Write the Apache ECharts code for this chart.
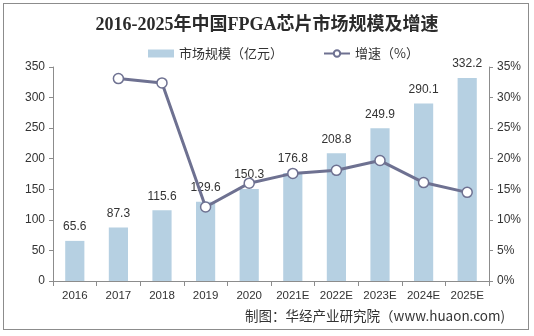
<!DOCTYPE html>
<html>
<head>
<meta charset="utf-8">
<script src="https://cdn.jsdelivr.net/npm/echarts@6/dist/echarts.min.js"></script>
<style>
html,body{margin:0;padding:0;background:#fff;}
#wrap{position:absolute;left:3px;top:3px;width:526px;height:327px;border:1px solid #8c8c8c;box-sizing:border-box;}
#chart{position:absolute;left:0;top:0;width:534px;height:336px;}
</style>
</head>
<body>
<div id="wrap"></div>
<div id="chart"></div>
<script>
const years = ['2016','2017','2018','2019','2020','2021E','2022E','2023E','2024E','2025E'];
const marketSize = [65.6, 87.3, 115.6, 129.6, 150.3, 176.8, 208.8, 249.9, 290.1, 332.2];
const growthRate = [null, 33.1, 32.4, 12.1, 16.0, 17.6, 18.1, 19.7, 16.1, 14.5];
const leftTicks = [0, 350, 50];
const rightTicks = [0, 35, 5];

const chart = echarts.init(document.getElementById('chart'));
const axisGrey = '#8c8c8c';
const txt = '#333';
chart.setOption({
  animation: false,
  title: {
    text: '2016-2025年中国FPGA芯片市场规模及增速',
    left: 'center', top: 11,
    textStyle: {fontFamily: '"Liberation Serif","Noto Sans CJK SC",serif', fontWeight: 'bold', fontSize: 18, color: '#2b2b2b'}
  },
  legend: {
    top: 42, left: 143, itemGap: 40, itemWidth: 26, itemHeight: 8,
    textStyle: {fontFamily: '"Noto Sans CJK SC",sans-serif', fontSize: 13, color: txt},
    data: [
      {name: '市场规模（亿元）', icon: 'rect'},
      {name: '增速（%）'}
    ]
  },
  grid: {left: 53, right: 45, top: 67, bottom: 55},
  xAxis: {
    type: 'category', data: years,
    axisLine: {lineStyle: {color: axisGrey}},
    axisTick: {show: true, interval: 0, lineStyle: {color: axisGrey}},
    axisLabel: {interval: 0, color: txt, fontFamily: '"Liberation Sans",Arial,sans-serif', fontSize: 11.5, margin: 9}
  },
  yAxis: [
    {
      type: 'value', min: leftTicks[0], max: leftTicks[1], interval: leftTicks[2],
      axisLine: {show: true, lineStyle: {color: axisGrey}},
      axisTick: {show: true, lineStyle: {color: axisGrey}, length: 4},
      splitLine: {show: false},
      axisLabel: {color: txt, fontFamily: '"Liberation Sans",Arial,sans-serif', fontSize: 12, margin: 8}
    },
    {
      type: 'value', min: rightTicks[0], max: rightTicks[1], interval: rightTicks[2],
      axisLine: {show: true, lineStyle: {color: axisGrey}},
      axisTick: {show: true, lineStyle: {color: axisGrey}, length: 4},
      splitLine: {show: false},
      axisLabel: {color: txt, fontFamily: '"Liberation Sans",Arial,sans-serif', fontSize: 12, margin: 8, formatter: '{value}%'}
    }
  ],
  series: [
    {
      name: '市场规模（亿元）', type: 'bar', data: marketSize, barWidth: '44%',
      itemStyle: {color: '#b6d0e2'},
      label: {show: true, position: 'top', distance: 8, color: txt, fontFamily: '"Liberation Sans",Arial,sans-serif', fontSize: 12}
    },
    {
      name: '增速（%）', type: 'line', yAxisIndex: 1, data: growthRate,
      symbol: 'circle', symbolSize: 10,
      lineStyle: {color: '#6e7191', width: 3},
      itemStyle: {color: '#ffffff', borderColor: '#6e7191', borderWidth: 1.5},
      z: 5
    }
  ],
  graphic: [{
    type: 'text', right: 29, top: 309,
    style: {text: '制图：华经产业研究院（www.huaon.com)', fill: '#333', font: '13.5px "Noto Sans CJK SC", sans-serif'}
  }]
});
</script>
</body>
</html>
